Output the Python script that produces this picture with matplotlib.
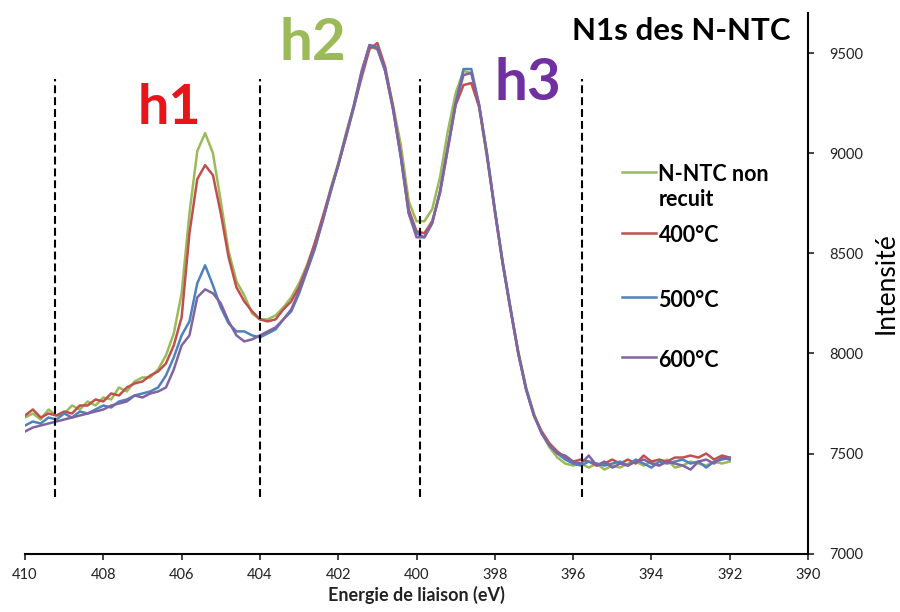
import matplotlib
matplotlib.use('Agg')
import matplotlib.pyplot as plt

plt.rcParams['font.family'] = ['Lato', 'DejaVu Sans']

# energie de liaison (eV)
energie = [410.0, 409.8, 409.6, 409.4, 409.2, 409.0, 408.8, 408.6, 408.4, 408.2,
           408.0, 407.8, 407.6, 407.4, 407.2, 407.0, 406.8, 406.6, 406.4, 406.2,
           406.0, 405.8, 405.6, 405.4, 405.2, 405.0, 404.8, 404.6, 404.4, 404.2,
           404.0, 403.8, 403.6, 403.4, 403.2, 403.0, 402.8, 402.6, 402.4, 402.2,
           402.0, 401.8, 401.6, 401.4, 401.2, 401.0, 400.8, 400.6, 400.4, 400.2,
           400.0, 399.8, 399.6, 399.4, 399.2, 399.0, 398.8, 398.6, 398.4, 398.2,
           398.0, 397.8, 397.6, 397.4, 397.2, 397.0, 396.8, 396.6, 396.4, 396.2,
           396.0, 395.8, 395.6, 395.4, 395.2, 395.0, 394.8, 394.6, 394.4, 394.2,
           394.0, 393.8, 393.6, 393.4, 393.2, 393.0, 392.8, 392.6, 392.4, 392.2,
           392.0]

non_recuit = [7680, 7700, 7670, 7720, 7690, 7700, 7740, 7720, 7760, 7740,
              7780, 7770, 7830, 7810, 7860, 7880, 7880, 7920, 7990, 8100,
              8300, 8700, 9010, 9100, 9000, 8760, 8510, 8360, 8290, 8200,
              8170, 8170, 8190, 8230, 8280, 8350, 8440, 8550, 8670, 8820,
              8950, 9100, 9240, 9410, 9530, 9520, 9420, 9240, 9040, 8760,
              8660, 8660, 8720, 8880, 9110, 9300, 9410, 9400, 9230, 8980,
              8720, 8450, 8220, 8010, 7830, 7700, 7600, 7530, 7480, 7450,
              7440, 7450, 7430, 7450, 7420, 7440, 7430, 7450, 7460, 7440,
              7460, 7440, 7470, 7430, 7440, 7460, 7450, 7440, 7460, 7450,
              7460]

t400 = [7690, 7720, 7680, 7700, 7690, 7710, 7700, 7740, 7740, 7770,
        7760, 7800, 7790, 7830, 7850, 7860, 7890, 7910, 7950, 8040,
        8180, 8600, 8870, 8940, 8890, 8700, 8480, 8330, 8260, 8210,
        8170, 8160, 8170, 8220, 8260, 8330, 8430, 8550, 8680, 8810,
        8940, 9080, 9230, 9380, 9520, 9550, 9430, 9230, 8990, 8720,
        8610, 8600, 8660, 8800, 9020, 9240, 9340, 9350, 9230, 8990,
        8710, 8450, 8220, 8000, 7820, 7690, 7610, 7550, 7510, 7480,
        7460, 7470, 7460, 7440, 7450, 7470, 7450, 7470, 7450, 7490,
        7460, 7470, 7460, 7480, 7480, 7490, 7480, 7500, 7470, 7490,
        7480]

t500 = [7640, 7660, 7650, 7680, 7670, 7700, 7680, 7710, 7700, 7720,
        7740, 7730, 7760, 7770, 7790, 7800, 7810, 7830, 7890, 7980,
        8090, 8160, 8350, 8440, 8340, 8230, 8150, 8110, 8110, 8090,
        8080, 8100, 8120, 8170, 8210, 8300, 8410, 8520, 8660, 8800,
        8940, 9090, 9230, 9400, 9540, 9530, 9410, 9220, 8980, 8700,
        8600, 8580, 8650, 8810, 9030, 9250, 9420, 9420, 9240, 9000,
        8720, 8460, 8230, 8000, 7820, 7690, 7600, 7540, 7500, 7470,
        7450, 7440, 7460, 7450, 7440, 7450, 7460, 7440, 7470, 7450,
        7430, 7460, 7450, 7460, 7470, 7450, 7460, 7430, 7460, 7470,
        7480]

t600 = [7610, 7630, 7640, 7650, 7660, 7670, 7680, 7690, 7700, 7710,
        7720, 7740, 7750, 7760, 7790, 7780, 7800, 7810, 7830, 7920,
        8040, 8090, 8280, 8320, 8300, 8250, 8160, 8090, 8060, 8070,
        8090, 8110, 8130, 8170, 8220, 8310, 8420, 8530, 8660, 8810,
        8940, 9090, 9240, 9410, 9540, 9520, 9410, 9220, 8980, 8700,
        8580, 8580, 8650, 8810, 9030, 9250, 9390, 9400, 9240, 8990,
        8710, 8450, 8220, 8000, 7820, 7690, 7600, 7540, 7500, 7490,
        7460, 7450, 7490, 7440, 7460, 7430, 7450, 7440, 7460, 7470,
        7450, 7440, 7460, 7450, 7440, 7420, 7460, 7470, 7450, 7480,
        7470]

series = [("N-NTC non\nrecuit", non_recuit, '#9BBB59'),
          ("400°C", t400, '#C0504D'),
          ("500°C", t500, '#4F81BD'),
          ("600°C", t600, '#8064A2')]

# limites des composantes h1 / h2 / h3
limites = [409.23, 404.0, 399.9, 395.77]
lim_bas, lim_haut = 7283, 9371

# legende a la Excel (espacement irregulier) : hauteur de chaque entree
legende_y = [0.706, 0.593, 0.474, 0.363]

fig = plt.figure(figsize=(9, 6.12), dpi=100)
ax = fig.add_axes([0.0278, 0.0953, 0.87, 0.8835])

for label, valeurs, couleur in series:
    ax.plot(energie, valeurs, color=couleur, linewidth=1.8, label=label)

for xl in limites:
    ax.plot([xl, xl], [lim_bas, lim_haut], color='black', linewidth=1.5,
            linestyle=(0, (3.8, 1.9)))

# legende
for (label, valeurs, couleur), yl in zip(series, legende_y):
    ax.plot([0.762, 0.806], [yl, yl], color=couleur, linewidth=1.8,
            transform=ax.transAxes)
    nlig = label.count('\n')
    ax.text(0.809, yl - 0.017 - 0.046 * nlig, label, transform=ax.transAxes,
            ha='left', va='baseline', fontsize=15.5, fontweight='bold',
            linespacing=1.25)

ax.set_xlim(410, 390)
ax.set_ylim(7000, 9700)
ax.set_xticks(range(410, 389, -2))
ax.set_yticks(range(7000, 9501, 500))

for s in ['top', 'left']:
    ax.spines[s].set_visible(False)
ax.spines['right'].set_linewidth(1.5)
ax.spines['bottom'].set_linewidth(1.5)
ax.yaxis.tick_right()
ax.tick_params(axis='both', direction='out', length=4, width=1.2, labelsize=10.5,
               colors='#222222')
ax.tick_params(axis='y', pad=11)
ax.tick_params(axis='x', pad=6)

ax.set_xlabel("Energie de liaison (eV)", fontsize=13, fontweight='bold',
              color='#222222', labelpad=3)
ax.yaxis.set_label_position('right')
ax.set_ylabel("Intensité", fontsize=19, color='black', labelpad=8)

ax.text(0.977, 0.967, "N1s des N-NTC", transform=ax.transAxes, ha='right',
        va='center', fontsize=22.5, fontweight='bold')
ax.text(0.185, 0.824, "h1", transform=ax.transAxes, ha='center', va='center',
        fontsize=40, fontweight='bold', color='#E8141A')
ax.text(0.368, 0.944, "h2", transform=ax.transAxes, ha='center', va='center',
        fontsize=42, fontweight='bold', color='#9BBB59')
ax.text(0.642, 0.870, "h3", transform=ax.transAxes, ha='center', va='center',
        fontsize=42, fontweight='bold', color='#7030A0')

fig.savefig('out.png', dpi=100)
